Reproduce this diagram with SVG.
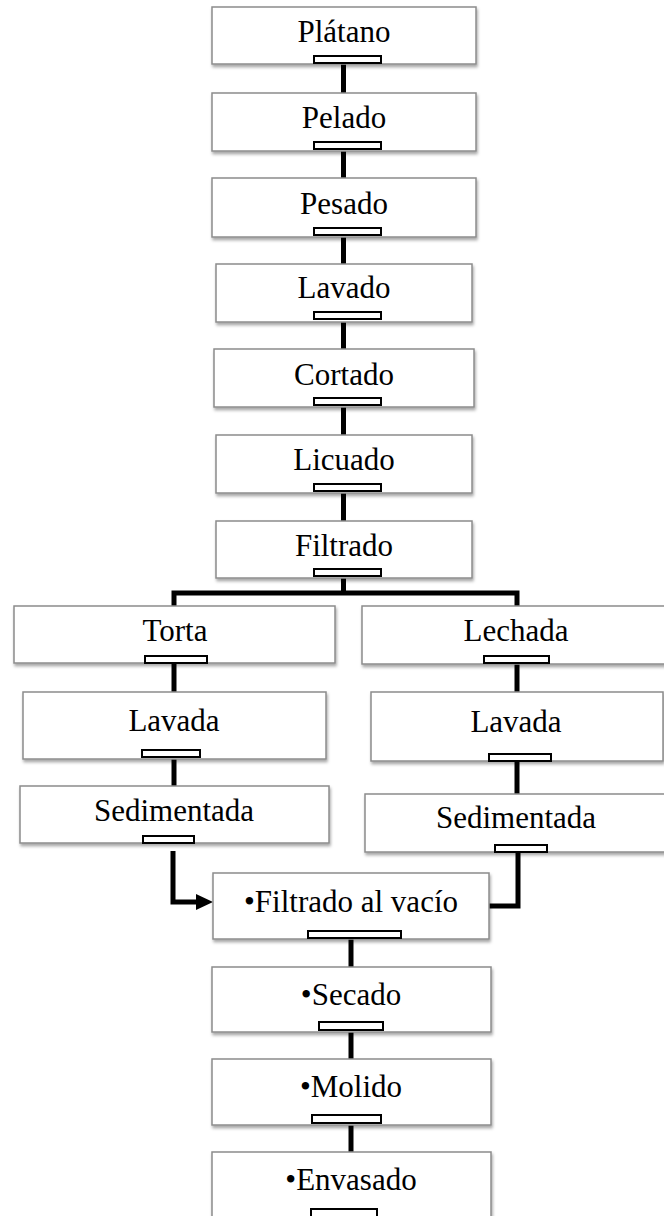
<svg xmlns="http://www.w3.org/2000/svg" width="664" height="1216" viewBox="0 0 664 1216">
<defs>
<filter id="sh" x="-5%" y="-10%" width="115%" height="130%">
<feDropShadow dx="1" dy="2.5" stdDeviation="1.5" flood-color="#000" flood-opacity="0.35"/>
</filter>
</defs>
<style>
.box{fill:#fff;stroke:#8c8c8c;stroke-width:1.5;filter:url(#sh)}
.tab{fill:#fff;stroke:#000;stroke-width:2}
.lbl{font-family:"Liberation Serif","Times New Roman",serif;font-size:31px;fill:#000;text-anchor:middle}
.con{fill:none;stroke:#000;stroke-width:5}
</style>
<rect width="664" height="1216" fill="#fff"/>
<g id="connectors">
<line class="con" x1="343.5" y1="63" x2="343.5" y2="93"/>
<line class="con" x1="343.5" y1="149" x2="343.5" y2="178"/>
<line class="con" x1="343.5" y1="235" x2="343.5" y2="264"/>
<line class="con" x1="343.5" y1="319" x2="343.5" y2="349"/>
<line class="con" x1="343.5" y1="405" x2="343.5" y2="435"/>
<line class="con" x1="343.5" y1="491" x2="343.5" y2="521"/>
<line class="con" x1="343.5" y1="576" x2="343.5" y2="593"/>
<path class="con" d="M174 606 V593 H517 V606"/>
<line class="con" x1="174" y1="663" x2="174" y2="692"/>
<line class="con" x1="174" y1="757" x2="174" y2="786"/>
<line class="con" x1="517" y1="663" x2="517" y2="692"/>
<line class="con" x1="517" y1="761" x2="517" y2="794"/>
<path class="con" d="M173 851 V902 H198"/>
<polygon points="196,894 213,902 196,910" fill="#000"/>
<path class="con" d="M518 852 V906 H489"/>
<line class="con" x1="351" y1="938" x2="351" y2="967"/>
<line class="con" x1="351" y1="1030" x2="351" y2="1059"/>
<line class="con" x1="351" y1="1123" x2="351" y2="1152"/>
</g>
<g id="platano"><rect class="box" x="212" y="7" width="264" height="57"/><rect class="tab" x="314" y="56" width="67" height="7"/><text class="lbl" x="344" y="42">Plátano</text></g>
<g id="pelado"><rect class="box" x="212" y="93" width="264" height="58"/><rect class="tab" x="314" y="142" width="67" height="7"/><text class="lbl" x="344" y="128">Pelado</text></g>
<g id="pesado"><rect class="box" x="212" y="178" width="264" height="59"/><rect class="tab" x="314" y="228" width="67" height="7"/><text class="lbl" x="344" y="214">Pesado</text></g>
<g id="lavado"><rect class="box" x="216" y="264" width="256" height="58"/><rect class="tab" x="314" y="312" width="67" height="7"/><text class="lbl" x="344" y="298">Lavado</text></g>
<g id="cortado"><rect class="box" x="214" y="349" width="260" height="58"/><rect class="tab" x="314" y="398" width="67" height="7"/><text class="lbl" x="344" y="385">Cortado</text></g>
<g id="licuado"><rect class="box" x="216" y="435" width="256" height="58"/><rect class="tab" x="314" y="484" width="67" height="7"/><text class="lbl" x="344" y="470">Licuado</text></g>
<g id="filtrado"><rect class="box" x="216" y="521" width="256" height="57"/><rect class="tab" x="314" y="569" width="67" height="7"/><text class="lbl" x="344" y="556">Filtrado</text></g>
<g id="torta"><rect class="box" x="14" y="606" width="321" height="57"/><rect class="tab" x="145" y="656" width="62" height="7"/><text class="lbl" x="175" y="641">Torta</text></g>
<g id="lavada-izq"><rect class="box" x="23" y="692" width="303" height="67"/><rect class="tab" x="142" y="750" width="58" height="7"/><text class="lbl" x="174" y="731">Lavada</text></g>
<g id="sedimentada-izq"><rect class="box" x="20" y="786" width="309" height="57"/><rect class="tab" x="143" y="836" width="51" height="7"/><text class="lbl" x="174" y="821">Sedimentada</text></g>
<g id="lechada"><rect class="box" x="362" y="606" width="310" height="58"/><rect class="tab" x="484" y="656" width="65" height="7"/><text class="lbl" x="516" y="641">Lechada</text></g>
<g id="lavada-der"><rect class="box" x="371" y="692" width="292" height="69"/><rect class="tab" x="489" y="754" width="62" height="7"/><text class="lbl" x="516" y="732">Lavada</text></g>
<g id="sedimentada-der"><rect class="box" x="365" y="794" width="305" height="58"/><rect class="tab" x="495" y="845" width="52" height="7"/><text class="lbl" x="516" y="828">Sedimentada</text></g>
<g id="filtrado-vacio"><rect class="box" x="213" y="873" width="276" height="66"/><rect class="tab" x="308" y="931" width="93" height="7"/><text class="lbl" x="351" y="912">•Filtrado al vacío</text></g>
<g id="secado"><rect class="box" x="212" y="967" width="279" height="65"/><rect class="tab" x="319" y="1022" width="64" height="8"/><text class="lbl" x="351" y="1005">•Secado</text></g>
<g id="molido"><rect class="box" x="212" y="1059" width="279" height="66"/><rect class="tab" x="312" y="1115" width="69" height="8"/><text class="lbl" x="351" y="1097">•Molido</text></g>
<g id="envasado"><rect class="box" x="212" y="1152" width="279" height="80"/><rect class="tab" x="311" y="1209" width="66" height="12"/><text class="lbl" x="351" y="1190">•Envasado</text></g>
</svg>
